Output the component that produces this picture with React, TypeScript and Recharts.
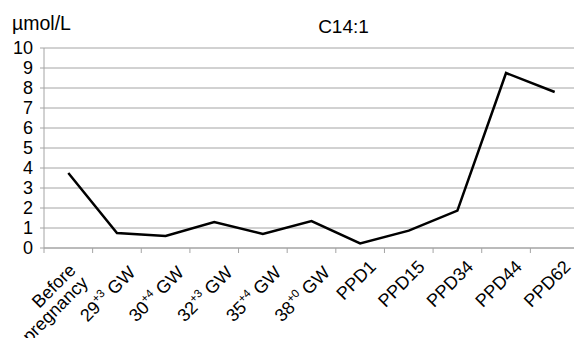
import { CartesianGrid, Line, LineChart, XAxis, YAxis } from "recharts";

const categories = [
  "Before pregnancy",
  "29+3 GW",
  "30+4 GW",
  "32+3 GW",
  "35+4 GW",
  "38+0 GW",
  "PPD1",
  "PPD15",
  "PPD34",
  "PPD44",
  "PPD62",
];
const c14Values = [3.75, 0.75, 0.6, 1.3, 0.7, 1.35, 0.23, 0.87, 1.87, 8.75, 7.8];
const yTicks = [0, 1, 2, 3, 4, 5, 6, 7, 8, 9, 10];
const title = "C14:1";
const unit = "µmol/L";

const data = categories.map((label, i) => ({ label, value: c14Values[i] }));

const font = "'Liberation Sans', Arial, sans-serif";
const gridColor = "#a4a4a4";

function CategoryTick(props: any) {
  const { x, y, payload } = props;
  const half = payload?.offset || 24.3;
  const label: string = payload.value;
  const gw = label.match(/^(\d+)(\+\d)(\s.+)$/);

  let content;
  if (gw) {
    content = (
      <text x={-4.5} y={32} textAnchor="end" fontSize={18} fill="#000">
        {gw[1]}
        <tspan fontSize={11.5} dy={-7.5}>{gw[2]}</tspan>
        <tspan dy={7.5}>{gw[3]}</tspan>
      </text>
    );
  } else if (label.includes(" ")) {
    const lines = label.split(" ");
    content = (
      <text textAnchor="end" fontSize={18} fill="#000">
        {lines.map((line, i) => (
          <tspan key={i} x={-10.6} y={22.5 + i * 17.5}>
            {line}
          </tspan>
        ))}
      </text>
    );
  } else {
    content = (
      <text x={-2} y={26} textAnchor="end" fontSize={18} fill="#000">
        {label}
      </text>
    );
  }

  return (
    <g>
      <line x1={x - half} x2={x - half} y1={y} y2={y + 5} stroke={gridColor} />
      <g transform={`translate(${x},${y}) rotate(-45)`} fontFamily={font}>
        {content}
      </g>
    </g>
  );
}

export default function App() {
  return (
    <div
      style={{
        position: "absolute",
        left: 0,
        top: 0,
        width: 574,
        height: 338,
        overflow: "hidden",
        background: "#fff",
      }}
    >
      <LineChart
        width={590}
        height={338}
        data={data}
        margin={{ top: 48, right: 11, bottom: 0, left: 0 }}
      >
        <CartesianGrid vertical={false} stroke={gridColor} />
        <XAxis
          dataKey="label"
          scale="band"
          interval={0}
          height={90}
          tickLine={false}
          tickSize={0}
          tickMargin={0}
          stroke={gridColor}
          tick={<CategoryTick />}
        />
        <YAxis
          width={44}
          domain={[0, 10]}
          ticks={yTicks}
          interval={0}
          tickSize={4}
          tickMargin={7}
          stroke={gridColor}
          tick={{ fill: "#000", fontSize: 18, fontFamily: font }}
        />
        <Line
          type="linear"
          dataKey="value"
          stroke="#000"
          strokeWidth={2.5}
          dot={false}
          isAnimationActive={false}
        />
      </LineChart>
      <svg
        width={574}
        height={40}
        style={{ position: "absolute", left: 0, top: 0, pointerEvents: "none" }}
      >
        <text x={12} y={30} fontSize={19.5} fontFamily={font} fill="#000">
          {unit}
        </text>
        <text x={343.5} y={33} fontSize={19} fontFamily={font} fill="#000" textAnchor="middle">
          {title}
        </text>
      </svg>
    </div>
  );
}
